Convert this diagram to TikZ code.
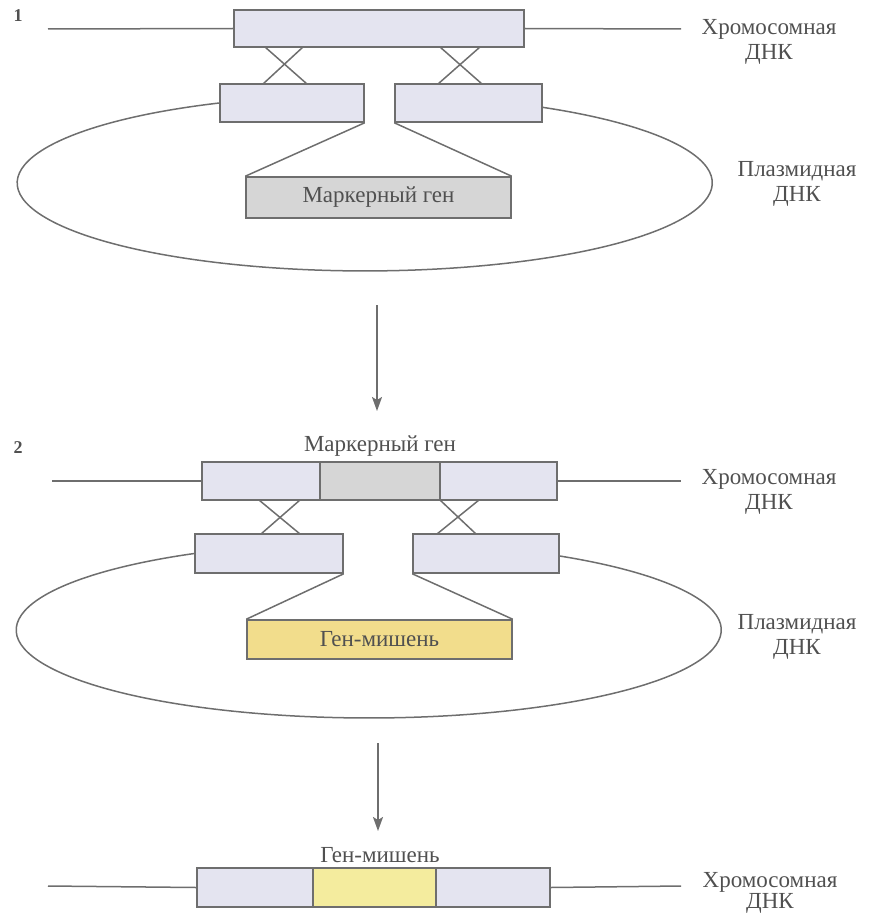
\documentclass[tikz,border=0pt]{standalone}
\usepackage{fontspec}
\setmainfont{Liberation Serif}
\usetikzlibrary{arrows.meta,calc}
\definecolor{ln}{HTML}{6E6E6E}
\definecolor{tx}{HTML}{505050}
\definecolor{lav}{HTML}{E4E4F0}
\definecolor{mk}{HTML}{D6D6D6}
\definecolor{yel}{HTML}{F2DD8C}
\definecolor{yelb}{HTML}{F4EC9E}
\tikzset{
  seg/.style={draw=ln, line width=1.5pt, rectangle, inner sep=0pt, minimum height=38pt},
  arm/.style={seg, fill=lav},
  lbl/.style={text=tx, font=\fontsize{23}{25}\selectfont, align=center, inner sep=0pt},
  num/.style={text=tx, font=\fontsize{18}{20}\selectfont\bfseries, inner sep=0pt},
  wire/.style={draw=ln, line width=1.5pt},
  step arrow/.style={draw=ln, line width=1.8pt, -{Stealth[length=14pt,width=10pt,inset=3pt]}}
}
\begin{document}
\begin{tikzpicture}[x=1pt,y=-1pt]
\useasboundingbox (0,0) rectangle (875,915);

% ---------- Panel 1 ----------
\node[num] (n1) at (18,16) {1};
\node[arm, minimum width=290pt, minimum height=37pt] (t1) at (379,28.5) {};
\coordinate (c1a) at (48,29);
\coordinate (c1b) at (681,29);
\draw[wire] (c1a) -- (t1.west);
\draw[wire] (t1.east) -- (c1b);
\node[lbl] (k1) at (769,42) {Хромосомная\\ДНК};

\node[arm, minimum width=144pt] (l1) at (292,103) {};
\node[arm, minimum width=147pt] (r1) at (468.5,103) {};
\draw[wire] (l1.west) arc[start angle=114.75, end angle=419.5, x radius=347.5pt, y radius=88pt];
\node[arm, minimum width=144pt] at (292,103) {};
\node[arm, minimum width=147pt] at (468.5,103) {};
\node[lbl] (p1) at (797,184) {Плазмидная\\ДНК};

% crosses
\coordinate (x1a) at (265,47); \coordinate (x1b) at (307,84);
\coordinate (x1c) at (303,47); \coordinate (x1d) at (263,84);
\coordinate (x1e) at (440,47); \coordinate (x1f) at (482,84);
\coordinate (x1g) at (480,47); \coordinate (x1h) at (438,84);
\draw[wire] (x1a) -- (x1b); \draw[wire] (x1c) -- (x1d);
\draw[wire] (x1e) -- (x1f); \draw[wire] (x1g) -- (x1h);

\node[seg, fill=mk, minimum width=265pt, minimum height=41pt, text=tx, font=\fontsize{23}{25}\selectfont] (m1) at (378.5,197.5) {Маркерный ген};
\draw[wire] (l1.south east) -- (m1.north west);
\draw[wire] (r1.south west) -- (m1.north east);

% arrow 1
\coordinate (a1s) at (377,305);
\coordinate (a1e) at (377,411);
\draw[step arrow] (a1s) -- (a1e);

% ---------- Panel 2 ----------
\node[num] (n2) at (18,448) {2};
\node[lbl] (mk2) at (380,446) {Маркерный ген};
\node[arm, minimum width=118pt] (tl2) at (261,481) {};
\node[seg, fill=mk, minimum width=120pt] (tm2) at (380,481) {};
\node[arm, minimum width=117pt] (tr2) at (498.5,481) {};
\coordinate (c2a) at (52,481);
\coordinate (c2b) at (681,481);
\draw[wire] (c2a) -- (tl2.west);
\draw[wire] (tr2.east) -- (c2b);
\node[lbl] (k2) at (769,492) {Хромосомная\\ДНК};

\node[arm, minimum width=148pt, minimum height=39pt] (l2) at (269,553.5) {};
\node[arm, minimum width=146pt, minimum height=39pt] (r2) at (486,553.5) {};
\draw[wire] (l2.west) arc[start angle=119.67, end angle=417.48, x radius=352.5pt, y radius=88pt];
\node[arm, minimum width=148pt, minimum height=39pt] at (269,553.5) {};
\node[arm, minimum width=146pt, minimum height=39pt] at (486,553.5) {};
\node[lbl] (p2) at (797,637) {Плазмидная\\ДНК};

\coordinate (x2a) at (259,500); \coordinate (x2b) at (300,534);
\coordinate (x2c) at (300,500); \coordinate (x2d) at (261,534);
\coordinate (x2e) at (440,500); \coordinate (x2f) at (476,534);
\coordinate (x2g) at (479,500); \coordinate (x2h) at (437,534);
\draw[wire] (x2a) -- (x2b); \draw[wire] (x2c) -- (x2d);
\draw[wire] (x2e) -- (x2f); \draw[wire] (x2g) -- (x2h);

\node[seg, fill=yel, minimum width=265pt, minimum height=39pt, text=tx, font=\fontsize{23}{25}\selectfont] (g2) at (379.5,639.5) {Ген-мишень};
\draw[wire] (l2.south east) -- (g2.north west);
\draw[wire] (r2.south west) -- (g2.north east);

% arrow 2
\coordinate (a2s) at (378,743);
\coordinate (a2e) at (378,831);
\draw[step arrow] (a2s) -- (a2e);

% ---------- Panel 3 ----------
\node[lbl] (g3l) at (380,855) {Ген-мишень};
\node[arm, minimum width=116pt, minimum height=39pt] (tl3) at (255,887.5) {};
\node[seg, fill=yelb, minimum width=123pt, minimum height=39pt] (tm3) at (374.5,887.5) {};
\node[arm, minimum width=114pt, minimum height=39pt] (tr3) at (493,887.5) {};
\coordinate (c3a) at (48,886);
\coordinate (c3b) at (681,886);
\draw[wire] (c3a) -- (tl3.west);
\draw[wire] (tr3.east) -- (c3b);
\node[lbl, anchor=south, font=\fontsize{23}{21}\selectfont] (k3) at (770,914) {Хромосомная\\ДНК};
\end{tikzpicture}
\end{document}
